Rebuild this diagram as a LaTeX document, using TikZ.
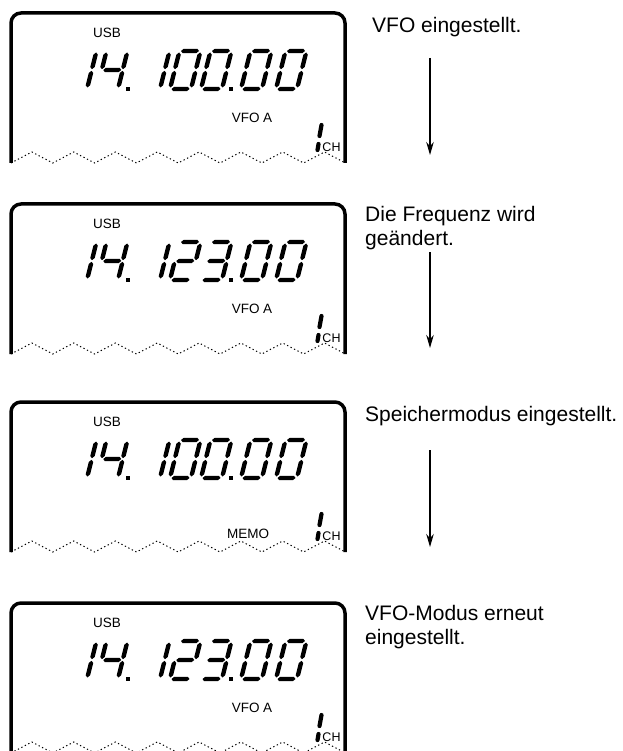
\documentclass[tikz,border=0pt]{standalone}
\usepackage{fontspec}
\setmainfont{Liberation Sans}
\usetikzlibrary{arrows.meta}
% tapered segment shapes (local coordinates, t = half thickness)
\def\lcdt{2.2}
\newcommand\lcdH[3]{\fill[lcdseg] (#1,#3) -- (#1+\lcdt,#3-\lcdt) -- (#2-\lcdt,#3-\lcdt) -- (#2,#3) -- (#2-\lcdt,#3+\lcdt) -- (#1+\lcdt,#3+\lcdt) -- cycle;}
\newcommand\lcdV[3]{\fill[lcdseg] (#1,#2) -- (#1+\lcdt,#2+\lcdt) -- (#1+\lcdt,#3-\lcdt) -- (#1,#3) -- (#1-\lcdt,#3-\lcdt) -- (#1-\lcdt,#2+\lcdt) -- cycle;}
% seven-segment pieces (cell: width 21, height 38, origin bottom-left)
\newcommand\lcdA{\lcdH{1.5}{19.5}{-38}}
\newcommand\lcdB{\lcdV{21}{-36.5}{-19.8}}
\newcommand\lcdC{\lcdV{21}{-18.2}{-1.5}}
\newcommand\lcdD{\lcdH{1.5}{19.5}{0}}
\newcommand\lcdE{\lcdV{0}{-18.2}{-1.5}}
\newcommand\lcdF{\lcdV{0}{-36.5}{-19.8}}
\newcommand\lcdG{\lcdH{1.5}{19.5}{-19}}
\newcommand\lcddigit[3]{%
  \begin{scope}[shift={(#1,#2)},xslant=0.25]
    \foreach \s in {#3} {\csname lcd\s\endcsname}
  \end{scope}}
\newcommand\lcddot[2]{\fill[lcdseg] (#1-1.9,#2-1.9) rectangle (#1+1.9,#2+1.9);}
\newcommand\lcdpanel[3]{% #1 id, #2 top, #3 middle digits
  \draw[frame] (11,#2+150) -- (11,#2) -- (345,#2) -- (345,#2+150);
  \draw[wave] (11,#2+150) foreach \k in {0,...,7} { -- ++(20.9,-11) -- ++(20.9,11) };
  \node[small] (usb#1) at (107,#2+20) {USB};
  \lcddigit{66}{#2+76}{B,C}
  \lcddigit{97}{#2+76}{F,G,B,C}
  \lcddot{128}{#2+76}
  \lcddigit{139}{#2+76}{B,C}
  #3
  \lcddot{231}{#2+76}
  \lcddigit{241}{#2+76}{A,B,C,D,E,F}
  \lcddigit{276}{#2+76}{A,B,C,D,E,F}
  \draw[chone] (321.5,#2+112) -- (319.5,#2+123);
  \draw[chone] (318.5,#2+131) -- (317.5,#2+137);
  \node[chlabel] (ch#1) at (331.5,#2+134) {CH};
}
\begin{document}
\begin{tikzpicture}[x=1pt,y=-1pt,
  lcdseg/.style={black},
  chone/.style={line width=4.2pt,line cap=round},
  frame/.style={line width=3.5pt,rounded corners=10pt},
  wave/.style={line width=1pt,dash pattern=on 1.3pt off 2.6pt},
  small/.style={font=\fontsize{13.5}{15}\selectfont,inner sep=0pt},
  chlabel/.style={font=\fontsize{12.5}{14}\selectfont,inner sep=0pt},
  desc/.style={font=\fontsize{21}{24}\selectfont,inner sep=0pt,align=left,anchor=base west},
  flow/.style={line width=1.2pt,-{Stealth[length=13pt,width=7.5pt]}}]
\useasboundingbox (0,0) rectangle (622,751);

% panel 1
\lcdpanel{p1}{13}{\lcddigit{170}{89}{A,B,C,D,E,F}\lcddigit{201}{89}{A,B,C,D,E,F}}
\node[small] (vfoa1) at (252,118) {VFO A};
\node[desc] (t1) at (372,33) {VFO eingestellt.};
\coordinate (a1s) at (430,58);
\coordinate (a1e) at (430,155);
\draw[flow] (a1s) -- (a1e);

% panel 2
\lcdpanel{p2}{204}{\lcddigit{170}{280}{A,B,G,E,D}\lcddigit{201}{280}{A,B,G,C,D}}
\node[small] (vfoa2) at (252,309) {VFO A};
\node[desc] (t2) at (365,245) {Die Frequenz wird\\geändert.};
\coordinate (a2s) at (430,252);
\coordinate (a2e) at (430,348);
\draw[flow] (a2s) -- (a2e);

% panel 3
\lcdpanel{p3}{402}{\lcddigit{170}{478}{A,B,C,D,E,F}\lcddigit{201}{478}{A,B,C,D,E,F}}
\node[small] (memo3) at (248,534) {MEMO};
\node[desc] (t3) at (365,421) {Speichermodus eingestellt.};
\coordinate (a3s) at (430,450);
\coordinate (a3e) at (430,547);
\draw[flow] (a3s) -- (a3e);

% panel 4
\lcdpanel{p4}{603}{\lcddigit{170}{679}{A,B,G,E,D}\lcddigit{201}{679}{A,B,G,C,D}}
\node[small] (vfoa4) at (252,708) {VFO A};
\node[desc] (t4) at (365,644) {VFO-Modus erneut\\eingestellt.};
\end{tikzpicture}
\end{document}
